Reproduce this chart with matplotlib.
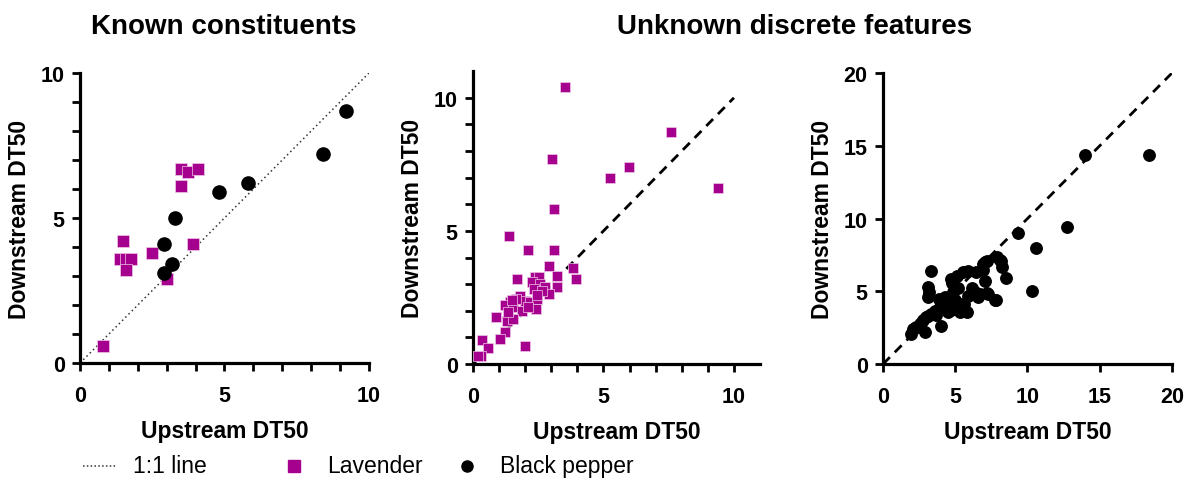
import matplotlib.pyplot as plt
from matplotlib.lines import Line2D

plt.rcParams['font.family'] = ['Liberation Sans', 'DejaVu Sans']

LAV = '#a6008e'

# Known constituents - lavender
k_lav_up = [0.8, 1.5, 1.4, 1.6, 1.75, 1.6, 2.5, 3.0, 3.9, 3.5, 3.5, 3.72, 4.1]
k_lav_down = [0.6, 4.2, 3.6, 3.6, 3.6, 3.2, 3.8, 2.9, 4.1, 6.1, 6.7, 6.6, 6.7]
# Known constituents - black pepper
k_bp_up = [2.9, 2.9, 3.2, 3.3, 4.8, 5.8, 8.4, 9.2]
k_bp_down = [4.1, 3.1, 3.4, 5.0, 5.9, 6.2, 7.2, 8.7]

# Unknown discrete features - lavender
u_lav_up = [3.52, 7.59, 3.02, 5.97, 5.25, 9.39, 3.12, 1.39, 2.1, 3.12,
            2.92, 3.83, 3.94, 3.23, 3.23, 1.7, 2.39, 2.52, 2.26, 2.58,
            2.32, 2.77, 2.9, 1.81, 2.0, 1.42, 1.23, 1.55, 2.19, 2.45,
            2.41, 1.87, 0.88, 1.29, 1.55, 1.23, 1.03, 2.0, 0.36, 0.58,
            0.32, 0.19, 1.65, 2.65, 1.48, 2.1, 2.45, 1.35]
u_lav_down = [10.39, 8.72, 7.7, 7.4, 6.99, 6.61, 5.81, 4.81, 4.29, 4.29,
              3.7, 3.6, 3.2, 3.3, 2.91, 3.2, 3.26, 3.26, 3.07, 3.0,
              2.82, 2.9, 2.64, 2.57, 2.38, 2.32, 2.2, 2.13, 2.32, 2.45,
              2.07, 2.0, 1.76, 1.63, 1.69, 1.19, 0.94, 0.69, 0.92, 0.59,
              0.31, 0.29, 2.45, 2.75, 2.4, 2.15, 2.6, 1.95]

# Unknown discrete features - black pepper
u_bp_up = [18.38, 13.99, 12.76, 10.59, 10.29, 9.32, 7.81, 7.28, 7.03, 8.5,
           8.27, 8.09, 7.05, 3.35, 3.12, 3.19, 3.12, 4.74, 4.86, 5.09,
           5.55, 5.9, 6.47, 6.94, 7.17, 7.86, 8.2, 7.75, 7.17, 6.7,
           6.13, 6.4, 5.9, 6.6, 5.78, 5.32, 5.3, 4.62, 4.28, 4.05,
           3.88, 3.93, 3.58, 3.3, 3.0, 2.75, 2.54, 2.3, 2.08, 1.96,
           2.89, 4.0, 4.4, 4.5, 5.0, 4.8, 5.2, 3.7, 2.2, 2.6,
           3.1, 4.7, 5.6, 6.9]
u_bp_down = [14.39, 14.39, 9.39, 8.0, 4.99, 9.0, 4.42, 4.81, 5.68, 5.89,
             6.64, 7.15, 7.03, 6.37, 5.27, 4.93, 4.58, 5.84, 4.93, 6.07,
             6.3, 6.41, 6.3, 6.87, 7.1, 7.33, 7.1, 4.4, 4.88, 4.81,
             5.2, 4.95, 4.7, 4.6, 3.55, 3.55, 4.1, 4.24, 4.58, 4.3,
             4.47, 3.9, 3.67, 3.45, 3.21, 3.0, 2.75, 2.55, 2.41, 2.06,
             2.22, 2.59, 3.9, 3.6, 4.4, 5.6, 5.2, 3.4, 2.5, 2.85,
             3.3, 3.7, 4.1, 6.5]

W, H = 1184, 481
fig = plt.figure(figsize=(W / 100, H / 100), dpi=100)
ax1 = fig.add_axes([0.0676, 0.2432, 0.244, 0.603])
ax2 = fig.add_axes([0.3995, 0.241, 0.2424, 0.609])
ax3 = fig.add_axes([0.7458, 0.241, 0.244, 0.605])


def style(ax, lim, major, minor):
    ax.set_xlim(0, lim)
    ax.set_ylim(0, lim)
    for s in ['top', 'right']:
        ax.spines[s].set_visible(False)
    for s in ['left', 'bottom']:
        ax.spines[s].set_linewidth(2.3)
    ax.set_xticks(major)
    ax.set_yticks(major)
    if minor:
        ax.set_xticks(minor, minor=True)
        ax.set_yticks(minor, minor=True)
    ax.tick_params(which='both', direction='out', length=6, width=2, labelsize=15.5)
    ax.tick_params(axis='x', pad=10)
    ax.tick_params(axis='y', pad=5)
    for lab in ax.get_xticklabels() + ax.get_yticklabels():
        lab.set_fontweight('bold')
    ax.set_xlabel('Upstream DT50', fontsize=16.5, fontweight='bold', labelpad=9)
    ax.set_ylabel('Downstream DT50', fontsize=16.5, fontweight='bold', labelpad=7)


# panel 1
ax1.plot([0, 10], [0, 10], color='#333333', linestyle=(0, (1, 2)), linewidth=1.1, zorder=1)
ax1.scatter(k_lav_up, k_lav_down, marker='s', s=85, color=LAV, edgecolors='#f0c8e8', linewidths=0.5, zorder=3)
ax1.scatter(k_bp_up, k_bp_down, marker='o', s=90, color='black', zorder=3)
style(ax1, 10, [0, 5, 10], list(range(11)))

# panel 2
ax2.plot([0, 10], [0, 10], color='black', linestyle=(0, (3.5, 2.5)), linewidth=2, zorder=1)
ax2.scatter(u_lav_up, u_lav_down, marker='s', s=62, color=LAV, edgecolors='#f0c8e8', linewidths=0.5, zorder=3)
style(ax2, 11, [0, 5, 10], list(range(11)))

# panel 3
ax3.plot([0, 20], [0, 20], color='black', linestyle=(0, (3.5, 2.5)), linewidth=2, zorder=1)
ax3.scatter(u_bp_up, u_bp_down, marker='o', s=68, color='black', zorder=3)
style(ax3, 20, [0, 5, 10, 15, 20], None)

fig.text(224 / W, 1 - 27 / H, 'Known constituents', ha='center', va='center', fontsize=20, fontweight='bold')
fig.text(795 / W, 1 - 27 / H, 'Unknown discrete features', ha='center', va='center', fontsize=20, fontweight='bold')

# legend row along the bottom
ly = 1 - 467 / H
fig.add_artist(Line2D([83 / W, 117 / W], [ly, ly], color='#333333', linestyle=(0, (1, 1.5)), linewidth=1.1))
fig.text(133 / W, ly, '1:1 line', ha='left', va='center', fontsize=16.5)
fig.add_artist(Line2D([294 / W], [ly], color=LAV, marker='s', markersize=8.5, linestyle='none'))
fig.text(327 / W, ly, 'Lavender', ha='left', va='center', fontsize=16.5)
fig.add_artist(Line2D([467 / W], [ly], color='black', marker='o', markersize=8, linestyle='none'))
fig.text(500 / W, ly, 'Black pepper', ha='left', va='center', fontsize=16.5)

fig.savefig('out.png', dpi=100)
